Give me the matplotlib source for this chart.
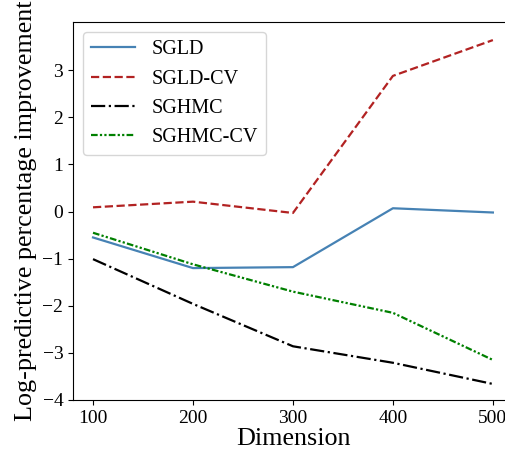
import matplotlib
matplotlib.use("Agg")
import matplotlib.pyplot as plt

plt.rcParams["font.family"] = ["Liberation Serif", "DejaVu Serif"]
plt.rcParams["mathtext.fontset"] = "stix"

dims = [100, 200, 300, 400, 500]
sgld = [-0.55, -1.20, -1.18, 0.07, -0.02]
sgld_cv = [0.09, 0.21, -0.03, 2.88, 3.64]
sghmc = [-1.01, -1.96, -2.86, -3.21, -3.66]
sghmc_cv = [-0.45, -1.12, -1.70, -2.15, -3.15]

fig = plt.figure(figsize=(5.05, 4.67), dpi=100)
ax = fig.add_axes([0.1446, 0.1435, 0.871, 0.809])

ax.plot(dims, sgld, color="steelblue", linestyle="-", lw=1.6, label="SGLD")
ax.plot(dims, sgld_cv, color="firebrick", linestyle="--", lw=1.6, label="SGLD-CV")
ax.plot(dims, sghmc, color="black", linestyle="-.", lw=1.6, label="SGHMC")
ax.plot(dims, sghmc_cv, color="green", linestyle=(0, (3, 1, 1, 1, 1, 1)), lw=1.6,
        label="SGHMC-CV")

ax.set_xlim(80, 520)
ax.set_ylim(-4, 4.02)
ax.set_xticks(dims)
ax.set_yticks([-4, -3, -2, -1, 0, 1, 2, 3])
ax.tick_params(labelsize=14)
ax.set_xlabel("Dimension", fontsize=18.8, labelpad=1)
ax.set_ylabel("Log-predictive percentage improvement", fontsize=18.8, labelpad=4)
ax.legend(loc="upper left", fontsize=14.5, handlelength=2.2)

fig.savefig("out.png", dpi=100)
